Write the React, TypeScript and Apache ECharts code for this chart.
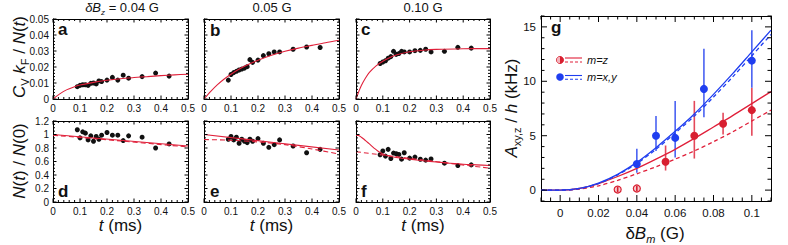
import React, { useEffect, useRef } from 'react';
import * as echarts from 'echarts';

const FONT = '"Liberation Sans", Arial, Helvetica, sans-serif';
const RED = '#e0203a';
const BLUE = '#1f3ef0';
const INK = '#111';
const AX = '#000';

// ---- panels a-f : shared time points (ms)
const tData = [0.09, 0.10, 0.11, 0.12, 0.13, 0.14, 0.15, 0.16, 0.17, 0.18, 0.20, 0.22, 0.24, 0.26, 0.28, 0.33, 0.38, 0.43];

// C_V k_F / N(t)
const cvA = [0.0077, 0.0085, 0.0089, 0.0089, 0.0085, 0.0098, 0.0100, 0.0094, 0.0113, 0.0109, 0.0118, 0.0135, 0.0118, 0.0149, 0.0130, 0.0140, 0.0162, 0.0143];
const cvB = [0.0118, 0.0153, 0.0165, 0.0173, 0.0181, 0.0187, 0.0193, 0.0202, 0.0246, 0.0229, 0.0243, 0.0271, 0.0283, 0.0294, 0.0294, 0.0311, 0.0325, 0.0322];
const cvC = [0.0222, 0.0231, 0.0239, 0.0255, 0.0265, 0.0298, 0.0279, 0.0284, 0.0298, 0.0294, 0.0294, 0.0302, 0.0304, 0.0311, 0.0294, 0.0298, 0.0323, 0.0318];

// N(t) / N(0)
const nD = [1.07, 0.95, 1.04, 1.02, 0.92, 0.98, 0.90, 0.97, 0.93, 0.99, 1.03, 0.99, 0.99, 0.91, 0.98, 0.96, 0.80, 0.86];
const nE = [0.93, 0.97, 0.92, 0.96, 0.87, 0.93, 0.90, 0.88, 0.93, 0.90, 0.94, 0.87, 0.81, 0.85, 0.92, 0.83, 0.73, 0.78];
const nF = [0.70, 0.755, 0.68, 0.78, 0.645, 0.725, 0.715, 0.705, 0.635, 0.73, 0.65, 0.665, 0.633, 0.62, 0.638, 0.575, 0.54, 0.55];

// fitted curves [t, value]
const fitA = [[0, 0], [0.025, 0.0032], [0.05, 0.0057], [0.075, 0.0074], [0.1, 0.0087], [0.15, 0.0104], [0.2, 0.0117], [0.25, 0.0127], [0.3, 0.0134], [0.35, 0.014], [0.4, 0.0146], [0.45, 0.0151], [0.5, 0.0155]];
const fitB = [[0, 0], [0.025, 0.0048], [0.05, 0.009], [0.075, 0.0125], [0.1, 0.0155], [0.15, 0.0204], [0.2, 0.0242], [0.25, 0.0273], [0.3, 0.0298], [0.35, 0.0318], [0.4, 0.0335], [0.45, 0.0352], [0.5, 0.0367]];
const fitC = [[0, 0], [0.01, 0.0045], [0.02, 0.0085], [0.035, 0.013], [0.05, 0.0166], [0.075, 0.0207], [0.1, 0.0236], [0.125, 0.0258], [0.15, 0.0275], [0.2, 0.0295], [0.25, 0.0305], [0.3, 0.031], [0.4, 0.0314], [0.5, 0.0315]];
const fitD = [[0, 1.0], [0.25, 0.915], [0.5, 0.83]];
const fitDdash = [[0, 0.99], [0.25, 0.905], [0.5, 0.815]];
const fitE = [[0, 1.0], [0.25, 0.885], [0.5, 0.77]];
const fitEdash = [[0, 0.925], [0.1, 0.915], [0.2, 0.89], [0.3, 0.85], [0.4, 0.785], [0.5, 0.71]];
const fitF = [[0, 0.99], [0.01, 0.985], [0.02, 0.96], [0.03, 0.93], [0.04, 0.895], [0.05, 0.86], [0.06, 0.825], [0.07, 0.79], [0.08, 0.76], [0.09, 0.735], [0.1, 0.712], [0.12, 0.685], [0.15, 0.66], [0.2, 0.635], [0.25, 0.612], [0.3, 0.592], [0.35, 0.575], [0.4, 0.56], [0.45, 0.55], [0.5, 0.54]];
const fitFdash = [[0, 0.745], [0.25, 0.622], [0.5, 0.5]];

// ---- panel g
const redX = [0.055, 0.07, 0.085, 0.1];
const redY = [2.6, 5.0, 6.1, 7.35];
const redLo = [1.8, 2.9, 5.1, 5.0];
const redHi = [4.1, 8.2, 7.1, 9.4];
const openX = [0.03, 0.04];
const openY = [0.05, 0.15];
const openLo = [-0.2, -0.1];
const openHi = [0.3, 0.4];
const blueX = [0.04, 0.05, 0.06, 0.075, 0.1];
const blueY = [2.4, 5.0, 4.8, 9.3, 11.9];
const blueLo = [1.6, 3.6, 3.0, 6.7, 9.4];
const blueHi = [3.8, 6.8, 8.2, 13.0, 14.7];
const gFitX = [-0.01, 0, 0.01, 0.02, 0.03, 0.04, 0.05, 0.06, 0.07, 0.08, 0.09, 0.1, 0.11];
const redFit = [0, 0, 0.15, 0.6, 1.25, 2.0, 2.85, 3.75, 4.75, 5.8, 6.85, 7.95, 9.05];
const redFitDash = [0, 0, 0.1, 0.4, 0.9, 1.5, 2.15, 2.85, 3.6, 4.45, 5.35, 6.35, 7.35];
const blueFit = [0, 0, 0.15, 0.65, 1.45, 2.55, 3.9, 5.4, 7.0, 8.8, 10.7, 12.7, 14.7];
const blueFitDash = [0, 0, 0.13, 0.6, 1.4, 2.45, 3.75, 5.25, 6.8, 8.55, 10.4, 12.35, 14.3];

// tick label values
const tTicks = [0, 0.1, 0.2, 0.3, 0.4, 0.5];
const cvTicks = [0, 0.01, 0.02, 0.03, 0.04, 0.05];
const nTicks = [0, 0.2, 0.4, 0.6, 0.8, 1, 1.2];
const gXTicks = [0, 0.02, 0.04, 0.06, 0.08, 0.1];
const gYTicks = [0, 5, 10, 15];

const GRIDS = [
  { left: 53, top: 19, width: 135, height: 80 },
  { left: 204, top: 19, width: 135, height: 80 },
  { left: 356, top: 19, width: 134, height: 80 },
  { left: 53, top: 121, width: 135, height: 81 },
  { left: 204, top: 121, width: 135, height: 81 },
  { left: 356, top: 121, width: 134, height: 81 },
  { left: 541, top: 16, width: 230, height: 185 },
];

const rnd = (v: number) => Math.round(v * 1e6) / 1e6;
function steps(from: number, to: number, step: number) {
  const out: number[] = [];
  const n = Math.round((to - from) / step);
  for (let k = 0; k <= n; k++) out.push(rnd(from + k * step));
  return out;
}

// tick specs per grid: [gridIndex, xMin, xMax, yMin, yMax, xMajor, xMinor, yMajor, yMinor, lenMajor, lenMinor]
const TICKS: any[] = [
  [0, 0, 0.5, 0, 0.05, tTicks, steps(0, 0.5, 0.02), cvTicks, steps(0, 0.05, 0.002), 3.5, 2],
  [1, 0, 0.5, 0, 0.05, tTicks, steps(0, 0.5, 0.02), cvTicks, steps(0, 0.05, 0.002), 3.5, 2],
  [2, 0, 0.5, 0, 0.05, tTicks, steps(0, 0.5, 0.02), cvTicks, steps(0, 0.05, 0.002), 3.5, 2],
  [3, 0, 0.5, 0, 1.2, tTicks, steps(0, 0.5, 0.02), nTicks, steps(0, 1.2, 0.05), 3.5, 2],
  [4, 0, 0.5, 0, 1.2, tTicks, steps(0, 0.5, 0.02), nTicks, steps(0, 1.2, 0.05), 3.5, 2],
  [5, 0, 0.5, 0, 1.2, tTicks, steps(0, 0.5, 0.02), nTicks, steps(0, 1.2, 0.05), 3.5, 2],
  [6, -0.01, 0.11, -1, 16, gXTicks, steps(-0.01, 0.11, 0.005), gYTicks, steps(-1, 16, 1), 6, 3.5],
];

function axis(showLabel: boolean, fs: number, labels: number[], margin: number, fmt: (v: number) => string) {
  return {
    type: 'value',
    axisLine: { show: true, onZero: false, lineStyle: { color: AX, width: 1 } },
    axisTick: { show: false },
    minorTick: { show: false },
    splitLine: { show: false },
    axisLabel: { show: showLabel, fontSize: fs, color: INK, fontFamily: FONT, margin, customValues: labels, formatter: fmt },
  };
}

function richSub(fs: number) {
  return {
    i: { fontStyle: 'italic', fontSize: fs, fontFamily: FONT, lineHeight: fs + 5, fill: INK },
    s: { fontSize: Math.round(fs * 0.65), fontFamily: FONT, verticalAlign: 'bottom', lineHeight: Math.round(fs * 0.65), fill: INK },
    si: { fontSize: Math.round(fs * 0.65), fontStyle: 'italic', fontFamily: FONT, verticalAlign: 'bottom', lineHeight: Math.round(fs * 0.65), fill: INK },
  };
}

function baseGraphic() {
  const txt = (x: number, y: number, text: string, fs: number) => ({
    type: 'text', x, y, silent: true,
    style: { text, fontSize: fs, fontFamily: FONT, fill: INK, align: 'center', verticalAlign: 'middle', lineHeight: fs + 5, rich: richSub(fs) },
  });
  const letter = (x: number, y: number, t: string) => ({
    type: 'text', x, y, silent: true,
    style: { text: t, fontSize: 17, fontWeight: 'bold', fontFamily: FONT, fill: INK, align: 'left', verticalAlign: 'middle' },
  });
  return [
    txt(122, 7, '{i|δB}{si|z} = 0.04 G', 13),
    txt(272, 7, '0.05 G', 13),
    txt(423, 7, '0.10 G', 13),
    { ...txt(19, 57, '{i|C}{s|V} {i|k}{s|F} / {i|N}({i|t})', 17), rotation: Math.PI / 2 },
    { ...txt(19, 161, '{i|N}({i|t}) / {i|N}(0)', 17), rotation: Math.PI / 2 },
    { ...txt(511, 108, '{i|A}{s|xy,z} / {i|h} (kHz)', 17), rotation: Math.PI / 2 },
    txt(120.5, 225, '{i|t} (ms)', 17),
    txt(271.5, 225, '{i|t} (ms)', 17),
    txt(423, 225, '{i|t} (ms)', 17),
    txt(655, 233, 'δ{i|B}{si|m} (G)', 17),
    letter(58, 29, 'a'),
    letter(210, 30, 'b'),
    letter(361, 29, 'c'),
    letter(58, 191, 'd'),
    letter(210, 191, 'e'),
    letter(361, 191, 'f'),
    letter(551, 27, 'g'),
    // legend
    { type: 'circle', shape: { cx: 560, cy: 60, r: 3.6 }, style: { fill: '#d81f30', stroke: '#d81f30', lineWidth: 0.8 } },
    { type: 'sector', shape: { cx: 560, cy: 60, r: 3.2, startAngle: Math.PI / 2, endAngle: (3 * Math.PI) / 2 }, style: { fill: '#f3b3bb' } },
    { type: 'line', shape: { x1: 565, y1: 58, x2: 582, y2: 58 }, style: { stroke: RED, lineWidth: 1.1 } },
    { type: 'line', shape: { x1: 565, y1: 62, x2: 582, y2: 62 }, style: { stroke: RED, lineWidth: 1.1, lineDash: [3, 2] } },
    { type: 'text', x: 587, y: 60, style: { text: 'm=z', fontSize: 11, fontStyle: 'italic', fontFamily: FONT, fill: INK, verticalAlign: 'middle' } },
    { type: 'circle', shape: { cx: 560, cy: 77, r: 3.8 }, style: { fill: BLUE } },
    { type: 'line', shape: { x1: 565, y1: 75.5, x2: 582, y2: 75.5 }, style: { stroke: BLUE, lineWidth: 1.1 } },
    { type: 'line', shape: { x1: 565, y1: 79.3, x2: 582, y2: 79.3 }, style: { stroke: BLUE, lineWidth: 1.1, lineDash: [3, 2] } },
    { type: 'text', x: 587, y: 77, style: { text: 'm=x,y', fontSize: 11, fontStyle: 'italic', fontFamily: FONT, fill: INK, verticalAlign: 'middle' } },
  ];
}

function buildOption() {
  const xAxis: any[] = [];
  const yAxis: any[] = [];
  const series: any[] = [];
  const fmt3 = (v: number) => String(+(+v).toFixed(3));
  const panels = [
    { data: cvA, fits: [[fitA, 'solid']], ymax: 0.05, yl: true, yt: cvTicks },
    { data: cvB, fits: [[fitB, 'solid']], ymax: 0.05, yl: false, yt: cvTicks },
    { data: cvC, fits: [[fitC, 'solid']], ymax: 0.05, yl: false, yt: cvTicks },
    { data: nD, fits: [[fitDdash, 'dashed'], [fitD, 'solid']], ymax: 1.2, yl: true, yt: nTicks },
    { data: nE, fits: [[fitEdash, 'dashed'], [fitE, 'solid']], ymax: 1.2, yl: false, yt: nTicks },
    { data: nF, fits: [[fitFdash, 'dashed'], [fitF, 'solid']], ymax: 1.2, yl: false, yt: nTicks },
  ];
  panels.forEach((p, i) => {
    xAxis.push({ ...axis(true, 10, tTicks, 4, fmt3), gridIndex: i, position: 'bottom', min: 0, max: 0.5 });
    xAxis.push({ ...axis(false, 10, tTicks, 4, fmt3), gridIndex: i, position: 'top', min: 0, max: 0.5 });
    yAxis.push({ ...axis(p.yl, 10, p.yt, 4, fmt3), gridIndex: i, position: 'left', min: 0, max: p.ymax });
    yAxis.push({ ...axis(false, 10, p.yt, 4, fmt3), gridIndex: i, position: 'right', min: 0, max: p.ymax });
  });
  const fmt2 = (v: number) => String(+(+v).toFixed(2));
  xAxis.push({ ...axis(true, 11.5, gXTicks, 6, fmt2), gridIndex: 6, position: 'bottom', min: -0.01, max: 0.11 });
  xAxis.push({ ...axis(false, 11.5, gXTicks, 6, fmt2), gridIndex: 6, position: 'top', min: -0.01, max: 0.11 });
  yAxis.push({ ...axis(true, 11.5, gYTicks, 5, (v: number) => String(v)), gridIndex: 6, position: 'left', min: -1, max: 16 });
  yAxis.push({ ...axis(false, 11.5, gYTicks, 5, (v: number) => String(v)), gridIndex: 6, position: 'right', min: -1, max: 16 });

  panels.forEach((p, i) => {
    const ax = 2 * i;
    p.fits.forEach(([curve, style]: any) => {
      series.push({
        type: 'line', xAxisIndex: ax, yAxisIndex: ax, data: curve, showSymbol: false, symbol: 'none',
        smooth: 0.3, silent: true,
        lineStyle: { color: RED, width: 1.1, type: style === 'dashed' ? [5, 3] : 'solid' },
      });
    });
    series.push({
      type: 'scatter', xAxisIndex: ax, yAxisIndex: ax, symbolSize: 5,
      data: tData.map((t, k) => [t, p.data[k]]), itemStyle: { color: INK, opacity: 1 },
    });
  });

  const G = 12;
  const gLine = (ys: number[], color: string, dashed: boolean) => ({
    type: 'line', xAxisIndex: G, yAxisIndex: G, data: gFitX.map((x, k) => [x, ys[k]]),
    showSymbol: false, symbol: 'none', smooth: 0.3, silent: true,
    lineStyle: { color, width: 1.3, type: dashed ? [4, 3] : 'solid' },
  });
  series.push(gLine(redFitDash, RED, true));
  series.push(gLine(redFit, RED, false));
  series.push(gLine(blueFitDash, BLUE, true));
  series.push(gLine(blueFit, BLUE, false));

  const errBars = (xs: number[], lo: number[], hi: number[], color: string, z: number) => ({
    type: 'custom', xAxisIndex: G, yAxisIndex: G, z,
    data: xs.map((x, k) => [x, lo[k], hi[k]]),
    encode: { x: 0, y: [1, 2] },
    renderItem: (_p: any, api: any) => {
      const a = api.coord([api.value(0), api.value(1)]);
      const b = api.coord([api.value(0), api.value(2)]);
      return { type: 'line', shape: { x1: a[0], y1: a[1], x2: b[0], y2: b[1] }, style: { stroke: color, lineWidth: 1.6 } };
    },
  });
  series.push(errBars(redX, redLo, redHi, '#e4485a', 3));
  series.push(errBars(blueX, blueLo, blueHi, '#4a62f2', 3));
  series.push({
    type: 'scatter', xAxisIndex: G, yAxisIndex: G, symbolSize: 8, z: 4,
    data: redX.map((x, k) => [x, redY[k]]), itemStyle: { color: '#d81f30', opacity: 1 },
  });
  series.push({
    type: 'scatter', xAxisIndex: G, yAxisIndex: G, symbolSize: 7, z: 4,
    data: openX.map((x, k) => [x, openY[k]]), itemStyle: { color: '#f6c9ce', borderColor: '#d81f30', borderWidth: 1.2, opacity: 1 },
  });
  series.push(errBars(openX, openLo, openHi, '#d81f30', 5));
  series.push({
    type: 'scatter', xAxisIndex: G, yAxisIndex: G, symbolSize: 8, z: 4,
    data: blueX.map((x, k) => [x, blueY[k]]), itemStyle: { color: BLUE, opacity: 1 },
  });

  return {
    animation: false,
    backgroundColor: '#ffffff',
    textStyle: { fontFamily: FONT },
    grid: GRIDS.map((g) => ({ ...g, containLabel: false, show: false })),
    xAxis,
    yAxis,
    series,
    graphic: { elements: baseGraphic() },
  };
}

// inward ticks on all four sides, positioned through the chart's own scales
function tickGraphics(chart: any) {
  const els: any[] = [];
  TICKS.forEach(([gi, x0, x1, y0, y1, xMaj, xMin, yMaj, yMin, lMaj, lMin]: any) => {
    const f = { gridIndex: gi };
    const bl = chart.convertToPixel(f, [x0, y0]);
    const tr = chart.convertToPixel(f, [x1, y1]);
    if (!bl || !tr) return;
    const isMaj = (arr: number[], v: number) => arr.some((m) => Math.abs(m - v) < 1e-9);
    const line = (a: number, b: number, c: number, d: number) =>
      els.push({ type: 'line', silent: true, z: 50, shape: { x1: a, y1: b, x2: c, y2: d }, style: { stroke: AX, lineWidth: 1 } });
    xMin.concat(xMaj).forEach((v: number, k: number) => {
      if (k < xMin.length && isMaj(xMaj, v)) return;
      const len = k < xMin.length ? lMin : lMaj;
      const px = chart.convertToPixel(f, [v, y0])[0];
      line(px, bl[1], px, bl[1] - len);
      line(px, tr[1], px, tr[1] + len);
    });
    yMin.concat(yMaj).forEach((v: number, k: number) => {
      if (k < yMin.length && isMaj(yMaj, v)) return;
      const len = k < yMin.length ? lMin : lMaj;
      const py = chart.convertToPixel(f, [x0, v])[1];
      line(bl[0], py, bl[0] + len, py);
      line(tr[0], py, tr[0] - len, py);
    });
  });
  return els;
}

export default function App() {
  const ref = useRef<HTMLDivElement>(null);
  useEffect(() => {
    if (!ref.current) return;
    const chart = echarts.init(ref.current, undefined, { renderer: 'svg' });
    chart.setOption(buildOption() as any);
    try {
      const ticks = tickGraphics(chart);
      chart.setOption({ graphic: { elements: baseGraphic().concat(ticks) } } as any);
    } catch (e) {
      // keep the chart without extra ticks
    }
    return () => chart.dispose();
  }, []);
  return <div ref={ref} style={{ position: 'absolute', left: 0, top: 0, width: 788, height: 245, background: '#fff' }} />;
}
